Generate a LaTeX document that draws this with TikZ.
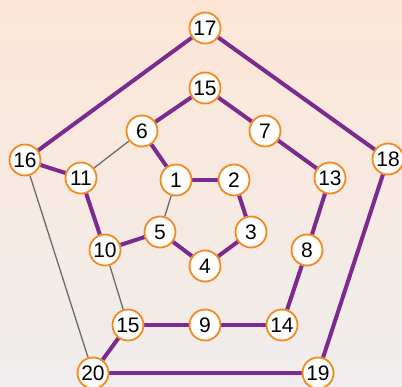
\documentclass[tikz,border=0pt]{standalone}
\usepackage{fontspec}
\setmainfont{Liberation Sans}
\definecolor{vpurple}{HTML}{7B2A8E}
\definecolor{vorange}{HTML}{F28A1E}
\definecolor{bgtop}{HTML}{FDE6D6}
\definecolor{bgmid}{HTML}{FBEEE6}
\definecolor{bgbot}{HTML}{EFEDED}
\pgfdeclarelayer{paper}
\pgfdeclarelayer{edges}
\pgfsetlayers{paper,edges,main}
\begin{document}
\begin{tikzpicture}[
  x=1pt, y=-1pt,
  vtx/.style={circle, draw=vorange, line width=1.8pt, fill=white,
    minimum size=31pt, inner sep=0pt, font=\fontsize{21}{21}\selectfont},
  ring/.style={draw=vpurple, line width=4pt},
  spoke/.style={draw=black!58, line width=1.3pt}
]
  % background
  \begin{pgfonlayer}{paper}
    \shade[top color=bgtop, middle color=bgmid, bottom color=bgbot]
      (0,0) rectangle (402,387);
  \end{pgfonlayer}
  \useasboundingbox (0,0) rectangle (402,387);

  % outer ring
  \node[vtx] (v17) at (205,28) {17};
  \node[vtx] (v16) at (25,160) {16};
  \node[vtx] (v18) at (388,159) {18};
  \node[vtx] (v20) at (93,373) {20};
  \node[vtx] (v19) at (318,373) {19};

  % middle ring
  \node[vtx] (v15a) at (205,88) {15};
  \node[vtx] (v6) at (142,131) {6};
  \node[vtx] (v7) at (265,131) {7};
  \node[vtx] (v11) at (81,178) {11};
  \node[vtx] (v13) at (330,178) {13};
  \node[vtx] (v10) at (105,250) {10};
  \node[vtx] (v8) at (307,250) {8};
  \node[vtx] (v15b) at (128,325) {15};
  \node[vtx] (v9) at (205,325) {9};
  \node[vtx] (v14) at (282,325) {14};

  % inner ring
  \node[vtx] (v1) at (176,180) {1};
  \node[vtx] (v2) at (234,180) {2};
  \node[vtx] (v3) at (251,232) {3};
  \node[vtx] (v4) at (205,266) {4};
  \node[vtx] (v5) at (160,232) {5};

  \begin{pgfonlayer}{edges}
  % thin grey links
  \draw[spoke] (v11) -- (v6);
  \draw[spoke] (v16) -- (v20);
  \draw[spoke] (v1) -- (v5);
  \draw[spoke] (v10) -- (v15b);

  % purple path
  \draw[ring] (v17) -- (v16);
  \draw[ring] (v17) -- (v18);
  \draw[ring] (v15a) -- (v6);
  \draw[ring] (v15a) -- (v7);
  \draw[ring] (v6) -- (v1);
  \draw[ring] (v7) -- (v13);
  \draw[ring] (v16) -- (v11);
  \draw[ring] (v11) -- (v10);
  \draw[ring] (v1) -- (v2);
  \draw[ring] (v2) -- (v3);
  \draw[ring] (v3) -- (v4);
  \draw[ring] (v4) -- (v5);
  \draw[ring] (v5) -- (v10);
  \draw[ring] (v13) -- (v8);
  \draw[ring] (v8) -- (v14);
  \draw[ring] (v14) -- (v9);
  \draw[ring] (v9) -- (v15b);
  \draw[ring] (v15b) -- (v20);
  \draw[ring] (v20) -- (v19);
  \draw[ring] (v19) -- (v18);
  \end{pgfonlayer}
\end{tikzpicture}
\end{document}
